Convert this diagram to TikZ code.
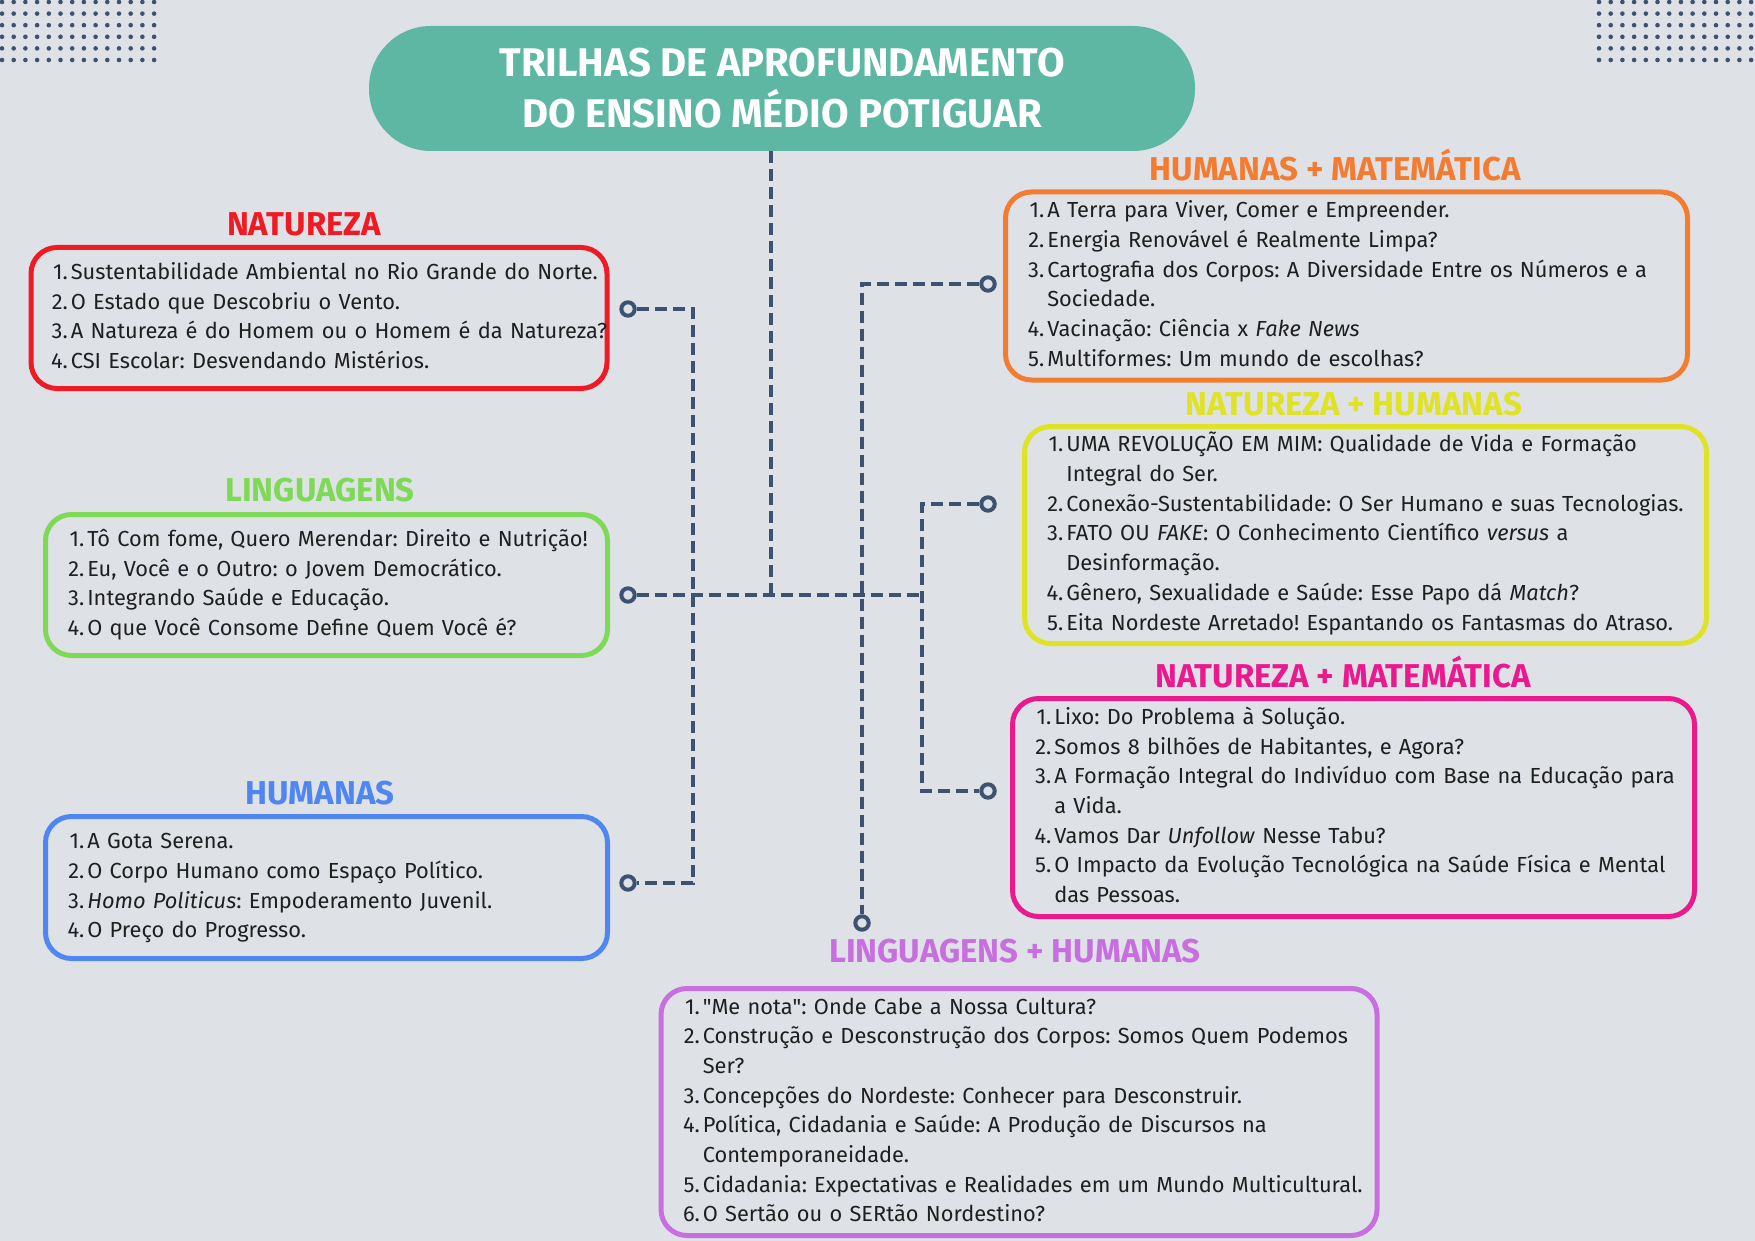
\documentclass[tikz,border=0pt]{standalone}
\usepackage{fontspec}
\setmainfont{Fira Sans}
\frenchspacing

\definecolor{bgGray}{HTML}{DEE1E6}
\definecolor{lineSlate}{HTML}{3D5270}
\definecolor{tealTitle}{HTML}{5DB7A3}
\definecolor{natRed}{HTML}{EE1B24}
\definecolor{linGreen}{HTML}{7ED957}
\definecolor{humBlue}{HTML}{4F86F0}
\definecolor{hmOrange}{HTML}{F47C31}
\definecolor{nhYellow}{HTML}{DFE324}
\definecolor{nmPink}{HTML}{EA1A8E}
\definecolor{lhPurple}{HTML}{C86FE0}

\newcommand{\trilha}[1]{\begin{tabular}{@{}r@{\hspace{1.5pt}}l@{}}#1\end{tabular}}

\begin{document}
\begin{tikzpicture}[x=0.5pt,y=-0.5pt,
    link/.style={draw=lineSlate, line width=2pt, dash pattern=on 6pt off 3pt},
    endring/.style={circle, draw=lineSlate, line width=2pt, fill=bgGray, minimum size=6.7pt, inner sep=0pt},
    box/.style={draw=#1, line width=2.5pt, rounded corners=13pt, inner xsep=11pt, inner ysep=0pt,
        align=left, text=black!88, font=\fontsize{10.9}{14.85}\selectfont},
    head/.style={text=#1, font=\bfseries\fontsize{16.5}{19}\selectfont, text height=11.5pt, text depth=0pt, inner sep=0pt}]

    \fill[bgGray] (0,0) rectangle (1755,1241);
    \useasboundingbox (0,0) rectangle (1755,1241);

    % dot patterns in the corners
    \foreach \i in {0,...,13}
        \foreach \j in {0,...,5} {
            \fill[lineSlate] (2+11.7*\i, 2+11.6*\j) circle (1.15pt);
            \fill[lineSlate] (1599+11.7*\i, 2+11.6*\j) circle (1.15pt);
        }

    \node[fill=tealTitle, rounded corners=31pt, minimum width=413pt, minimum height=62.5pt,
        text=white, align=center, font=\bfseries\fontsize{20}{25.5}\selectfont] (title) at (782,88.5)
        {TRILHAS DE APROFUNDAMENTO\\DO ENSINO MÉDIO POTIGUAR};

    % left side
    \node[head=natRed] (natHead) at (304,224) {NATUREZA};
    \node[box=natRed, text width=268pt, minimum height=70.5pt, inner xsep=10pt] (nat) at (319,318) {\trilha{
        1. & Sustentabilidade Ambiental no Rio Grande do Norte.\\
        2. & O Estado que Descobriu o Vento.\\
        3. & A Natureza é do Homem ou o Homem é da Natureza?\\
        4. & CSI Escolar: Desvendando Mistérios.}};

    \node[head=linGreen] (linHead) at (320,490) {LINGUAGENS};
    \node[box=linGreen, text width=259pt, minimum height=70.5pt] (lin) at (326.5,585) {\trilha{
        1. & Tô Com fome, Quero Merendar: Direito e Nutrição!\\
        2. & Eu, Você e o Outro: o Jovem Democrático.\\
        3. & Integrando Saúde e Educação.\\
        4. & O que Você Consome Define Quem Você é?}};

    \node[head=humBlue] (humHead) at (320,793) {HUMANAS};
    \node[box=humBlue, text width=259pt, minimum height=71pt] (hum) at (326.5,887.5) {\trilha{
        1. & A Gota Serena.\\
        2. & O Corpo Humano como Espaço Político.\\
        3. & \textit{Homo Politicus}: Empoderamento Juvenil.\\
        4. & O Preço do Progresso.}};

    % right side
    \node[head=hmOrange] (hmHead) at (1335,169) {HUMANAS + MATEMÁTICA};
    \node[box=hmOrange, text width=319pt, minimum height=94pt] (hm) at (1346.5,286) {\trilha{
        1. & A Terra para Viver, Comer e Empreender.\\
        2. & Energia Renovável é Realmente Limpa?\\
        3. & Cartografia dos Corpos: A Diversidade Entre os Números e a\\
           & Sociedade.\\
        4. & Vacinação: Ciência x \textit{Fake News}\\
        5. & Multiformes: Um mundo de escolhas?}};

    \node[head=nhYellow] (nhHead) at (1354,404) {NATUREZA + HUMANAS};
    \node[box=nhYellow, text width=319pt, minimum height=108.5pt] (nh) at (1365.5,535) {\trilha{
        1. & UMA REVOLUÇÃO EM MIM: Qualidade de Vida e Formação\\
           & Integral do Ser.\\
        2. & Conexão-Sustentabilidade: O Ser Humano e suas Tecnologias.\\
        3. & FATO OU \textit{FAKE}: O Conhecimento Científico \textit{versus} a\\
           & Desinformação.\\
        4. & Gênero, Sexualidade e Saúde: Esse Papo dá \textit{Match}?\\
        5. & Eita Nordeste Arretado! Espantando os Fantasmas do Atraso.}};

    \node[head=nmPink] (nmHead) at (1343,676) {NATUREZA + MATEMÁTICA};
    \node[box=nmPink, text width=319pt, minimum height=109pt] (nm) at (1353.5,807.5) {\trilha{
        1. & Lixo: Do Problema à Solução.\\
        2. & Somos 8 bilhões de Habitantes, e Agora?\\
        3. & A Formação Integral do Indivíduo com Base na Educação para\\
           & a Vida.\\
        4. & Vamos Dar \textit{Unfollow} Nesse Tabu?\\
        5. & O Impacto da Evolução Tecnológica na Saúde Física e Mental\\
           & das Pessoas.}};

    \node[head=lhPurple] (lhHead) at (1015,951) {LINGUAGENS + HUMANAS};
    \node[box=lhPurple, text width=336pt, minimum height=123.5pt] (lh) at (1019,1112) {\trilha{
        1. & \textquotedbl Me nota\textquotedbl: Onde Cabe a Nossa Cultura?\\
        2. & Construção e Desconstrução dos Corpos: Somos Quem Podemos\\
           & Ser?\\
        3. & Concepções do Nordeste: Conhecer para Desconstruir.\\
        4. & Política, Cidadania e Saúde: A Produção de Discursos na\\
           & Contemporaneidade.\\
        5. & Cidadania: Expectativas e Realidades em um Mundo Multicultural.\\
        6. & O Sertão ou o SERtão Nordestino?}};

    % connector ends
    \node[endring] (natPin) at (628,309) {};
    \node[endring] (linPin) at (628,595) {};
    \node[endring] (humPin) at (628,883) {};
    \node[endring] (hmPin) at (988,284) {};
    \node[endring] (nhPin) at (988,504) {};
    \node[endring] (nmPin) at (988,791) {};
    \node[endring] (lhPin) at (862,923) {};
    \coordinate (hub) at (771,595);
    \coordinate (barL) at (693,595);
    \coordinate (barR) at (922,595);

    % connectors
    \draw[link] (title.south -| hub) -- (hub);
    \draw[link] (linPin) -- (barR);
    \draw[link] (natPin) -- (natPin -| barL) -- (humPin -| barL) -- (humPin);
    \draw[link] (hmPin) -- (hmPin -| lhPin) -- (lhPin);
    \draw[link] (nhPin) -- (nhPin -| barR) -- (nmPin -| barR) -- (nmPin);
\end{tikzpicture}
\end{document}
